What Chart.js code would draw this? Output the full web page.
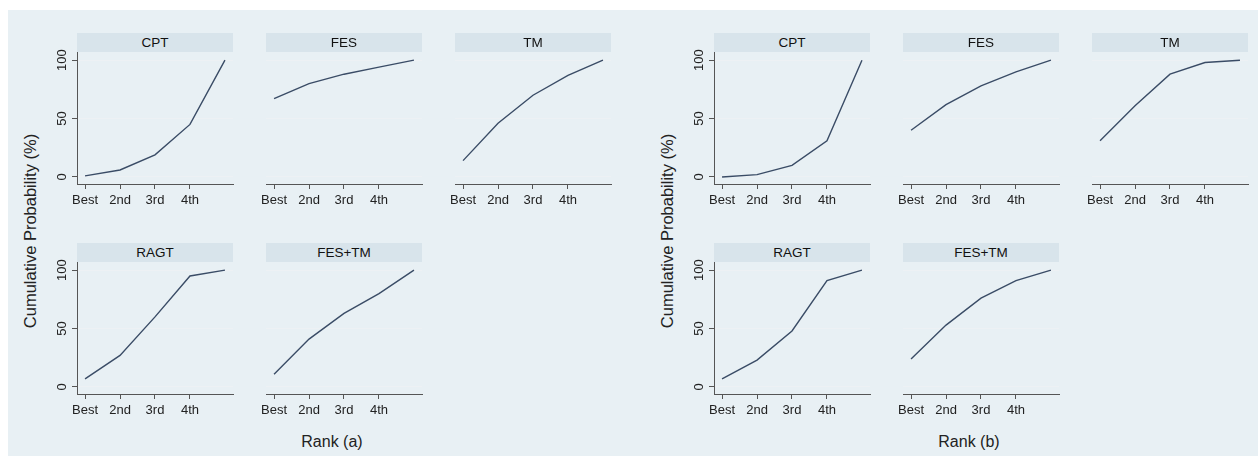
<!DOCTYPE html>
<html>
<head>
<meta charset="utf-8">
<script src="https://cdn.jsdelivr.net/npm/chart.js"></script>
<style>
  html, body { margin: 0; padding: 0; background: #fff; }
  #page { position: relative; width: 1258px; height: 456px; overflow: hidden; background: #fff; font-family: "Liberation Sans", Arial, sans-serif; }
  #bg { position: absolute; left: 8px; top: 10px; right: 0; bottom: 0; background: #e8f0f4; }
  .hdr { position: absolute; height: 19px; background: #d8e4eb; color: #111; font-size: 13.5px; line-height: 19px; text-align: center; z-index: 2; }
  .cv { position: absolute; z-index: 1; }
  .xt { position: absolute; font-size: 16px; color: #222; text-align: center; width: 200px; }
  .yt { position: absolute; font-size: 16.5px; color: #222; white-space: nowrap; transform: translate(-50%, -50%) rotate(-90deg); }
</style>
</head>
<body>
<div id="page"><div id="bg"></div></div>
<script>
// rangs et valeurs
var rankPos = [1, 2, 3, 4, 5];
var rankLabels = ['Best', '2nd', '3rd', '4th'];
var yTicks = [0, 50, 100];
var treatments = ['CPT', 'FES', 'TM', 'RAGT', 'FES+TM'];

// (a)
var cptA   = [1, 6, 19, 45, 100];
var fesA   = [67, 80, 88, 94, 100];
var tmA    = [14, 46, 70, 87, 100];
var ragtA  = [7, 27, 60, 95, 100];
var fesTmA = [11, 41, 63, 80, 100];
// (b)
var cptB   = [0, 2, 10, 31, 100];
var fesB   = [40, 62, 78, 90, 100];
var tmB    = [31, 61, 88, 98, 100];
var ragtB  = [7, 23, 48, 91, 100];
var fesTmB = [24, 53, 76, 91, 100];

var groups = [
  { name: 'Rank (a)', left: 77, series: [cptA, fesA, tmA, ragtA, fesTmA] },
  { name: 'Rank (b)', left: 714, series: [cptB, fesB, tmB, ragtB, fesTmB] }
];

var PANEL_W = 156, COL_STEP = 189, ROW_TOPS = [33, 243], HDR_H = 19, PLOT_H = 132;
var YAX_W = 30, XAX_H = 40, RIGHT_PAD = 6;
var FONT = '"Liberation Sans", Arial, sans-serif';
var page = document.getElementById('page');

// étiquettes Y tournées (comme Stata)
var yLabelPlugin = {
  id: 'yLabels',
  afterDraw: function(chart) {
    if (!chart.options.plugins.yLabels.show) return;
    var ctx = chart.ctx, sc = chart.scales.y;
    ctx.save();
    ctx.font = '13px ' + FONT;
    ctx.fillStyle = '#222';
    ctx.textAlign = 'center';
    ctx.textBaseline = 'middle';
    yTicks.forEach(function(v) {
      ctx.save();
      ctx.translate(sc.left + 15, sc.getPixelForValue(v));
      ctx.rotate(-Math.PI / 2);
      ctx.fillText(String(v), 0, 0);
      ctx.restore();
    });
    ctx.restore();
  }
};

function makePanel(g, idx) {
  var row = Math.floor(idx / 3), col = idx % 3;
  var plotLeft = g.left + col * COL_STEP;
  var top = ROW_TOPS[row];
  var firstCol = col === 0;

  var hdr = document.createElement('div');
  hdr.className = 'hdr';
  hdr.style.left = plotLeft + 'px';
  hdr.style.top = top + 'px';
  hdr.style.width = PANEL_W + 'px';
  hdr.textContent = treatments[idx];
  page.appendChild(hdr);

  var w = YAX_W + PANEL_W + RIGHT_PAD;
  var h = HDR_H + PLOT_H + XAX_H;
  var wrap = document.createElement('div');
  wrap.className = 'cv';
  wrap.style.left = (plotLeft - YAX_W) + 'px';
  wrap.style.top = top + 'px';
  wrap.style.width = w + 'px';
  wrap.style.height = h + 'px';
  var cv = document.createElement('canvas');
  wrap.appendChild(cv);
  page.appendChild(wrap);

  var vals = g.series[idx];
  var pts = rankPos.map(function(x, i) { return { x: x, y: vals[i] }; });

  new Chart(cv, {
    type: 'line',
    data: { datasets: [{
      data: pts,
      borderColor: '#3a4c66',
      borderWidth: 1.4,
      pointRadius: 0,
      tension: 0,
      fill: false
    }] },
    options: {
      responsive: true,
      maintainAspectRatio: false,
      animation: false,
      layout: { padding: { top: HDR_H, right: RIGHT_PAD, bottom: 0, left: 0 } },
      plugins: {
        legend: { display: false },
        tooltip: { enabled: false },
        yLabels: { show: firstCol }
      },
      scales: {
        x: {
          type: 'linear',
          min: 0.77, max: 5.23,
          afterBuildTicks: function(s) { s.ticks = rankLabels.map(function(_, i) { return { value: i + 1 }; }); },
          afterFit: function(s) { s.height = XAX_H; },
          grid: { drawOnChartArea: false, drawTicks: true, tickLength: 5, tickColor: '#555', tickWidth: 1 },
          border: { display: true, color: '#555', width: 1 },
          ticks: {
            padding: 4,
            color: '#222',
            font: { family: FONT, size: 13 },
            maxRotation: 0,
            autoSkip: false,
            callback: function(v) { return rankLabels[Math.round(v) - 1] || ''; }
          }
        },
        y: {
          type: 'linear',
          min: -6, max: 107,
          afterBuildTicks: function(s) { s.ticks = yTicks.map(function(v) { return { value: v }; }); },
          afterFit: function(s) { s.width = YAX_W; },
          grid: { color: '#edf1f4', lineWidth: 1, drawTicks: true, tickLength: 5,
                  tickColor: firstCol ? '#555' : 'rgba(0,0,0,0)' },
          border: { display: firstCol, color: '#555', width: 1 },
          ticks: { display: false }
        }
      }
    },
    plugins: [yLabelPlugin]
  });
}

groups.forEach(function(g) {
  for (var i = 0; i < treatments.length; i++) makePanel(g, i);

  var xt = document.createElement('div');
  xt.className = 'xt';
  xt.style.left = (g.left + 255 - 100) + 'px';
  xt.style.top = '433px';
  xt.textContent = g.name;
  page.appendChild(xt);

  var yt = document.createElement('div');
  yt.className = 'yt';
  yt.style.left = (g.left - 47) + 'px';
  yt.style.top = '231px';
  yt.textContent = 'Cumulative Probability (%)';
  page.appendChild(yt);
});
</script>
</body>
</html>
